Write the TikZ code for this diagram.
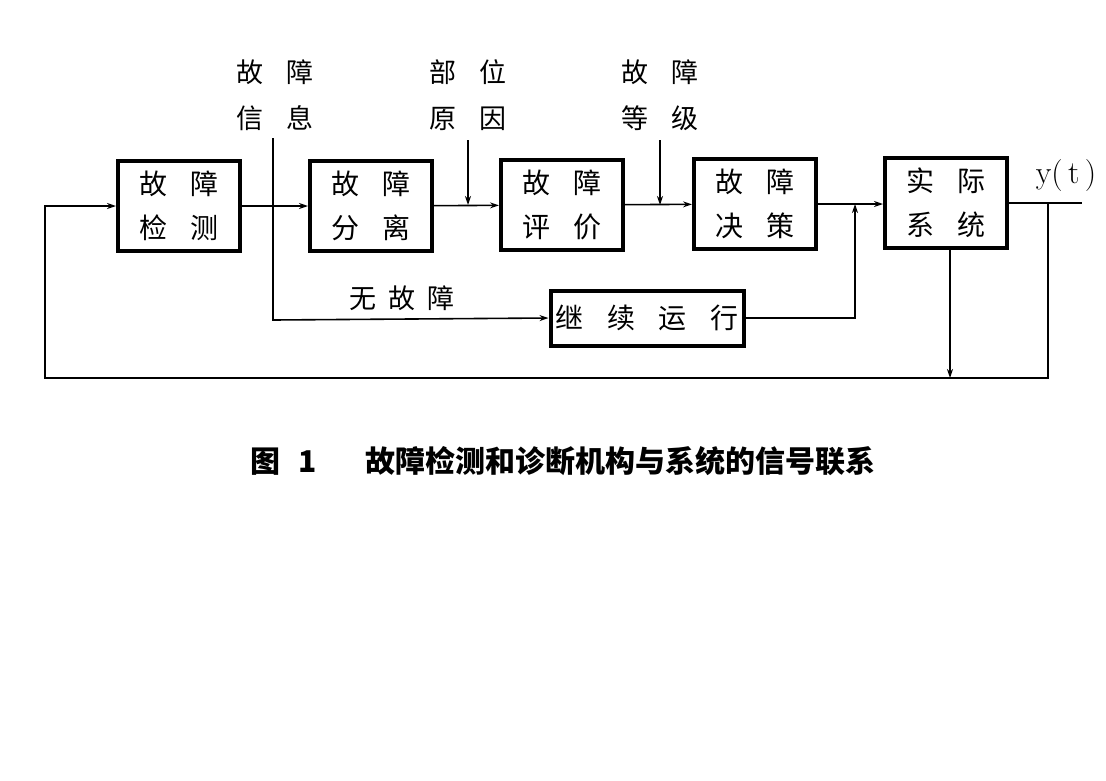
\documentclass[tikz,border=0pt]{standalone}
\usepackage{fontspec}
\newfontfamily\cjk{Noto Sans CJK SC}
\usetikzlibrary{arrows.meta}
\begin{document}
\begin{tikzpicture}[x=1pt,y=-1pt,
  blk/.style={draw,line width=4pt,minimum width=122pt,minimum height=90pt,inner sep=0pt,
    font=\cjk\fontsize{28}{44}\selectfont,align=center},
  lbl/.style={font=\cjk\fontsize{27}{46}\selectfont,align=center,inner sep=0pt},
  ln/.style={line width=1.6pt},
  arr/.style={line width=1.6pt,-{Stealth[length=9pt,width=6pt]}}]
\useasboundingbox (0,0) rectangle (1106,780);
\def\g{\hspace{0.85em}}
\node[blk] (b1) at (179,206) {故\g 障\\检\g 测};
\node[blk] (b2) at (371,206) {故\g 障\\分\g 离};
\node[blk] (b3) at (562,205) {故\g 障\\评\g 价};
\node[blk] (b4) at (755,204) {故\g 障\\决\g 策};
\node[blk] (b5) at (946,203) {实\g 际\\系\g 统};
\node[blk,minimum width=193pt,minimum height=55pt] (b6) at (647,318) {继\g 续\g 运\g 行};
% labels
\node[lbl] (l1) at (275,95) {故\g 障\\信\g 息};
\node[lbl] (l2) at (468,95) {部\g 位\\原\g 因};
\node[lbl] (l3) at (660,95) {故\g 障\\等\g 级};
\node[lbl] (l4) at (402,298) {无\hspace{0.45em}故\hspace{0.45em}障};
\node[inner sep=0pt,font=\fontsize{32}{34}\selectfont] (yt) at (1066,176) {y(\,t\,)};
\node[inner sep=0pt,font=\cjk\bfseries\fontsize{30}{32}\selectfont] (cap) at (563,461)
  {图\hspace{0.6em}1\hspace{1.6em}故障检测和诊断机构与系统的信号联系};
% coordinates
\coordinate (out) at (1082,203);
\coordinate (j) at (1048,203);
\coordinate (fbr) at (1048,378);
\coordinate (fbl) at (45,378);
\coordinate (s5) at (950,378);
\coordinate (t1) at (273,138);
\coordinate (t1b) at (273,320);
\coordinate (t2) at (468,140);
\coordinate (t2b) at (468,205);
\coordinate (t3) at (660,140);
\coordinate (t3b) at (660,205);
\coordinate (m) at (855,318);
\coordinate (mt) at (855,204);
% connectors
\draw[arr] (b1) -- (b2);
\draw[arr] (b2) -- (b3);
\draw[arr] (b3) -- (b4);
\draw[arr] (b4.east) -- (b4.east -| b5.west);
\draw[ln] (b5.east) -- (out);
\draw[arr] (j) -- (fbr) -- (fbl) |- (b1.west);
\draw[arr] (b5.south -| s5) -- (s5);
\draw[arr] (t1) -- (t1b) -- (b6.west);
\draw[arr] (t2) -- (t2b);
\draw[arr] (t3) -- (t3b);
\draw[arr] (b6.east) -- (m) -- (mt);
\end{tikzpicture}
\end{document}
